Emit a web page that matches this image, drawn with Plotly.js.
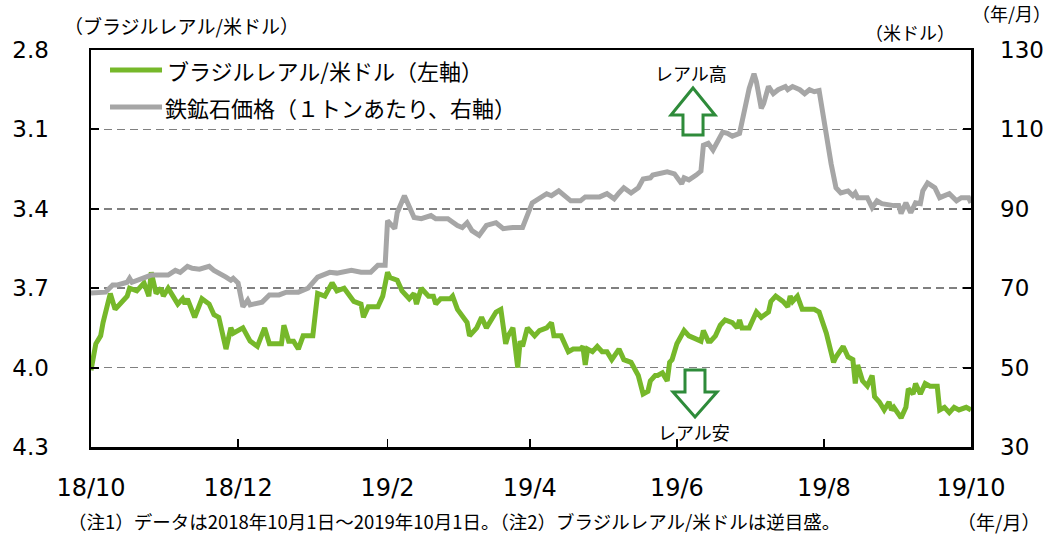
<!DOCTYPE html>
<html><head><meta charset="utf-8">
<script src="https://cdn.plot.ly/plotly-3.0.1.min.js"></script>
<style>html,body{margin:0;padding:0;background:#fff}#chart{width:1056px;height:534px}</style>
</head><body><div id="chart"></div>
<script>
// ブラジルレアル/米ドル（左軸、逆目盛）
const realDates = ['2018-10-01','2018-10-03','2018-10-05','2018-10-06','2018-10-09','2018-10-11','2018-10-16','2018-10-17','2018-10-20','2018-10-23','2018-10-25','2018-10-26','2018-10-28','2018-10-30','2018-10-31',
'2018-11-02','2018-11-04','2018-11-06','2018-11-08','2018-11-09','2018-11-10','2018-11-13','2018-11-16','2018-11-19','2018-11-21','2018-11-23','2018-11-26','2018-11-28','2018-11-29',
'2018-12-03','2018-12-06','2018-12-09','2018-12-12','2018-12-14','2018-12-18','2018-12-19','2018-12-20','2018-12-22','2018-12-24','2018-12-26','2018-12-28',
'2019-01-01','2019-01-03','2019-01-06','2019-01-09','2019-01-11','2019-01-14','2019-01-18','2019-01-21','2019-01-22','2019-01-24','2019-01-28','2019-01-30',
'2019-02-01','2019-02-02','2019-02-05','2019-02-07','2019-02-10','2019-02-12','2019-02-13','2019-02-15','2019-02-18','2019-02-20','2019-02-21','2019-02-23','2019-02-27','2019-02-28',
'2019-03-02','2019-03-06','2019-03-07','2019-03-10','2019-03-12','2019-03-14','2019-03-18','2019-03-20','2019-03-22','2019-03-23','2019-03-25','2019-03-27','2019-03-28','2019-03-29','2019-03-31',
'2019-04-03','2019-04-05','2019-04-08','2019-04-10','2019-04-11','2019-04-14','2019-04-17','2019-04-19','2019-04-22','2019-04-23','2019-04-24','2019-04-25','2019-04-27','2019-04-29',
'2019-05-01','2019-05-03','2019-05-05','2019-05-08','2019-05-10','2019-05-13','2019-05-16','2019-05-18','2019-05-20','2019-05-21','2019-05-23','2019-05-24','2019-05-26','2019-05-28','2019-05-29','2019-05-30',
'2019-06-01','2019-06-04','2019-06-06','2019-06-11','2019-06-12','2019-06-14','2019-06-15','2019-06-17','2019-06-19','2019-06-21','2019-06-24','2019-06-26','2019-06-27','2019-06-28',
'2019-07-01','2019-07-04','2019-07-06','2019-07-09','2019-07-10','2019-07-12','2019-07-15','2019-07-17','2019-07-18','2019-07-19','2019-07-21','2019-07-23','2019-07-28','2019-07-30',
'2019-08-02','2019-08-04','2019-08-05','2019-08-06','2019-08-09','2019-08-11','2019-08-13','2019-08-14','2019-08-15','2019-08-17','2019-08-19','2019-08-21','2019-08-22','2019-08-24','2019-08-26','2019-08-28','2019-08-29','2019-08-30',
'2019-09-02','2019-09-04','2019-09-05','2019-09-07','2019-09-08','2019-09-10','2019-09-12','2019-09-14','2019-09-17','2019-09-18','2019-09-20','2019-09-22','2019-09-24','2019-09-26','2019-09-29','2019-10-01'];
const realValues = [4.01,3.91,3.88,3.83,3.72,3.78,3.73,3.70,3.71,3.68,3.73,3.64,3.72,3.70,3.73,
3.70,3.73,3.76,3.74,3.76,3.74,3.81,3.74,3.76,3.80,3.81,3.93,3.85,3.87,
3.85,3.90,3.92,3.85,3.91,3.91,3.91,3.84,3.90,3.90,3.93,3.88,
3.88,3.72,3.73,3.68,3.71,3.70,3.75,3.76,3.81,3.77,3.77,3.73,
3.64,3.66,3.67,3.71,3.74,3.72,3.76,3.70,3.73,3.73,3.76,3.74,3.74,3.73,
3.78,3.83,3.88,3.85,3.81,3.85,3.79,3.78,3.91,3.88,3.85,4.00,3.90,3.92,3.85,
3.88,3.86,3.85,3.83,3.88,3.88,3.94,3.93,3.93,3.92,3.99,3.93,3.94,3.92,
3.94,3.94,3.97,3.93,3.97,3.98,4.03,4.10,4.09,4.05,4.03,4.03,4.02,4.05,3.98,3.97,
3.91,3.86,3.88,3.90,3.86,3.90,3.90,3.88,3.84,3.82,3.83,3.85,3.82,3.85,
3.85,3.79,3.81,3.79,3.75,3.73,3.75,3.77,3.73,3.75,3.73,3.78,3.78,3.79,
3.87,3.94,3.98,3.96,3.92,3.96,3.97,4.06,3.99,4.05,4.07,4.03,4.11,4.13,4.16,4.13,4.16,4.15,
4.19,4.15,4.08,4.10,4.06,4.10,4.06,4.07,4.07,4.16,4.15,4.17,4.15,4.16,4.15,4.16];

// 鉄鉱石価格（1トンあたり、右軸）
const oreDates = ['2018-10-01','2018-10-07','2018-10-10','2018-10-12','2018-10-16','2018-10-17','2018-10-18','2018-10-23','2018-10-26',
'2018-11-02','2018-11-05','2018-11-07','2018-11-10','2018-11-12','2018-11-15','2018-11-19','2018-11-21','2018-11-26','2018-11-28','2018-11-29',
'2018-12-01','2018-12-03','2018-12-05','2018-12-06','2018-12-11','2018-12-14','2018-12-18','2018-12-21','2018-12-26','2018-12-30',
'2019-01-01','2019-01-03','2019-01-08','2019-01-11','2019-01-17','2019-01-21','2019-01-25','2019-01-28','2019-01-31',
'2019-02-01','2019-02-04','2019-02-05','2019-02-08','2019-02-12','2019-02-15','2019-02-19','2019-02-21','2019-02-26',
'2019-03-02','2019-03-04','2019-03-06','2019-03-08','2019-03-11','2019-03-14','2019-03-18','2019-03-21','2019-03-25','2019-03-29',
'2019-04-02','2019-04-05','2019-04-08','2019-04-10','2019-04-13','2019-04-18','2019-04-22','2019-04-24','2019-04-30',
'2019-05-03','2019-05-06','2019-05-08','2019-05-10','2019-05-13','2019-05-16','2019-05-18','2019-05-21','2019-05-22','2019-05-24','2019-05-28','2019-05-31',
'2019-06-03','2019-06-04','2019-06-06','2019-06-09','2019-06-11','2019-06-12','2019-06-14','2019-06-16','2019-06-18','2019-06-20','2019-06-22','2019-06-24','2019-06-27','2019-06-29',
'2019-07-01','2019-07-03','2019-07-04','2019-07-06','2019-07-07','2019-07-09','2019-07-11','2019-07-13','2019-07-16','2019-07-17','2019-07-19','2019-07-22','2019-07-24','2019-07-26','2019-07-28','2019-07-30',
'2019-08-01','2019-08-02','2019-08-04','2019-08-06','2019-08-08','2019-08-11','2019-08-13','2019-08-14','2019-08-15','2019-08-19','2019-08-21','2019-08-23','2019-08-25','2019-08-30',
'2019-09-01','2019-09-02','2019-09-04','2019-09-06','2019-09-08','2019-09-10','2019-09-11','2019-09-13','2019-09-16','2019-09-18','2019-09-20','2019-09-22','2019-09-25','2019-09-27','2019-09-30','2019-10-01'];
const orePrices = [68.8,69.0,70.8,70.8,71.5,72.5,71.5,72.5,73.3,
73.3,74.5,74.0,75.5,75.0,74.8,75.5,74.5,72.8,72.0,72.5,
71.3,65.3,67.0,65.8,66.5,68.3,68.3,69.0,69.0,70.0,
71.3,72.8,74.0,73.8,74.5,74.0,74.0,75.8,75.8,
87.0,85.0,89.0,93.3,87.8,87.5,88.3,87.5,87.5,
85.8,85.3,86.5,84.5,83.3,85.8,86.5,85.0,85.3,85.3,
91.5,92.5,93.8,93.3,94.5,92.0,92.0,93.0,93.0,
93.8,92.5,94.0,95.3,94.0,95.3,97.5,97.8,98.5,98.8,99.3,98.8,
96.3,97.8,97.3,98.5,99.5,106.0,106.5,104.8,107.0,109.3,109.0,108.3,109.0,114.5,
120.3,124.0,122.0,115.3,116.5,120.8,119.0,120.0,120.8,120.0,120.8,120.0,119.0,120.0,119.5,119.8,
112.5,107.0,101.3,95.3,94.0,94.5,93.3,94.0,92.8,92.8,90.3,92.0,91.3,90.8,
90.8,88.8,91.5,89.0,91.5,91.3,94.5,96.5,95.3,92.8,93.3,93.8,92.0,92.8,92.8,91.5];

const xTickVals = ['2018-10-01','2018-12-01','2019-02-01','2019-04-01','2019-06-01','2019-08-01','2019-10-01'];
const xTickText = ['18/10','18/12','19/2','19/4','19/6','19/8','19/10'];
const leftTicks = [2.8,3.1,3.4,3.7,4.0,4.3];
const rightTicks = [30,50,70,90,110,130];
const seriesNames = ['ブラジルレアル/米ドル（左軸）','鉄鉱石価格（１トンあたり、右軸）'];
const seriesColors = ['#76B82A','#A6A6A6'];

const JP = "'Noto Sans CJK JP', 'Noto Sans', sans-serif";
const NUM = "'DejaVu Sans', sans-serif";
const ARROW = '#2E8B3A';

const traces = [
  {x: oreDates, y: orePrices, yaxis:'y2', type:'scatter', mode:'lines', name: seriesNames[1],
   line:{color: seriesColors[1], width:5}, hoverinfo:'skip'},
  {x: realDates, y: realValues, yaxis:'y', type:'scatter', mode:'lines', name: seriesNames[0],
   line:{color: seriesColors[0], width:5}, hoverinfo:'skip'}
];

const layout = {
  width:1056, height:534,
  margin:{l:91, r:85, t:50, b:87, pad:0},
  paper_bgcolor:'#ffffff', plot_bgcolor:'#ffffff',
  showlegend:false,
  font:{family: JP, color:'#000'},
  xaxis:{type:'date', range:['2018-10-01','2019-10-01'], tickmode:'array', tickvals:xTickVals, ticktext:xTickText,
    ticks:'inside', ticklen:8, tickwidth:1.5, tickcolor:'#000',
    showline:true, linecolor:'#000', linewidth:2.5, mirror:true,
    showgrid:false, zeroline:false, fixedrange:true,
    tickfont:{family:NUM, size:24, color:'#000'}, ticklabelstandoff:18},
  yaxis:{range:[4.3,2.8], tickmode:'array', tickvals:leftTicks, ticktext:leftTicks.map(v=>v.toFixed(1)),
    ticks:'inside', ticklen:8, tickwidth:2, tickcolor:'#000',
    showline:true, linecolor:'#000', linewidth:2.5, mirror:true,
    showgrid:true, gridcolor:'#808080', gridwidth:1.5, griddash:'8px,5px',
    zeroline:false, fixedrange:true,
    tickfont:{family:NUM, size:23, color:'#000'}, ticklabelstandoff:35},
  yaxis2:{overlaying:'y', side:'right', range:[30,130], tickmode:'array', tickvals:rightTicks,
    ticks:'inside', ticklen:8, tickwidth:2, tickcolor:'#000',
    showline:false, showgrid:false, zeroline:false, fixedrange:true,
    tickfont:{family:NUM, size:23, color:'#000'}, ticklabelstandoff:28},
  shapes:[
    {type:'line', xref:'paper', yref:'paper', x0:0.0216, x1:0.0807, y0:0.9496, y1:0.9496, line:{color:seriesColors[0], width:5}},
    {type:'line', xref:'paper', yref:'paper', x0:0.0216, x1:0.0807, y0:0.8564, y1:0.8564, line:{color:seriesColors[1], width:5}},
    {type:'path', xref:'paper', yref:'paper', fillcolor:'#ffffff', line:{color:ARROW, width:3},
     path:'M 0.6841,0.9043 L 0.7091,0.8363 L 0.6955,0.8363 L 0.6955,0.7859 L 0.6727,0.7859 L 0.6727,0.8363 L 0.6591,0.8363 Z'},
    {type:'path', xref:'paper', yref:'paper', fillcolor:'#ffffff', line:{color:ARROW, width:3},
     path:'M 0.6750,0.1940 L 0.6977,0.1940 L 0.6977,0.1385 L 0.7114,0.1385 L 0.6864,0.0756 L 0.6614,0.1385 L 0.6750,0.1385 Z'}
  ],
  annotations:[
    {text: seriesNames[0], xref:'paper', yref:'paper', x:0.084, y:0.9496, xanchor:'left', yanchor:'middle', showarrow:false, font:{family:JP, size:22, color:'#000'}},
    {text: seriesNames[1], xref:'paper', yref:'paper', x:0.082, y:0.8564, xanchor:'left', yanchor:'middle', showarrow:false, font:{family:JP, size:22, color:'#000'}},
    {text:'レアル高', xref:'paper', yref:'paper', x:0.6818, y:0.942, xanchor:'center', yanchor:'middle', showarrow:false, font:{family:JP, size:18, color:'#000'}},
    {text:'レアル安', xref:'paper', yref:'paper', x:0.6852, y:0.0378, xanchor:'center', yanchor:'middle', showarrow:false, font:{family:JP, size:18, color:'#000'}},
    {text:'（ブラジルレアル/米ドル）', xref:'paper', yref:'paper', x:0.1023, y:1.0605, xanchor:'center', yanchor:'middle', showarrow:false, font:{family:JP, size:19, color:'#000'}},
    {text:'（米ドル）', xref:'paper', yref:'paper', x:0.9307, y:1.0453, xanchor:'center', yanchor:'middle', showarrow:false, font:{family:JP, size:18, color:'#000'}},
    {text:'（年/月）', xref:'paper', yref:'paper', x:1.0455, y:1.093, xanchor:'center', yanchor:'middle', showarrow:false, font:{family:JP, size:18, color:'#000'}},
    {text:'（注1）データは2018年10月1日～2019年10月1日。（注2）ブラジルレアル/米ドルは逆目盛。', xref:'paper', yref:'paper', x:0.4125, y:-0.1864, xanchor:'center', yanchor:'middle', showarrow:false, font:{family:JP, size:18.5, color:'#000'}},
    {text:'（年/月）', xref:'paper', yref:'paper', x:1.0307, y:-0.1889, xanchor:'center', yanchor:'middle', showarrow:false, font:{family:JP, size:19, color:'#000'}}
  ]
};

Plotly.newPlot('chart', traces, layout, {staticPlot:true, displayModeBar:false});
</script>
</body></html>
